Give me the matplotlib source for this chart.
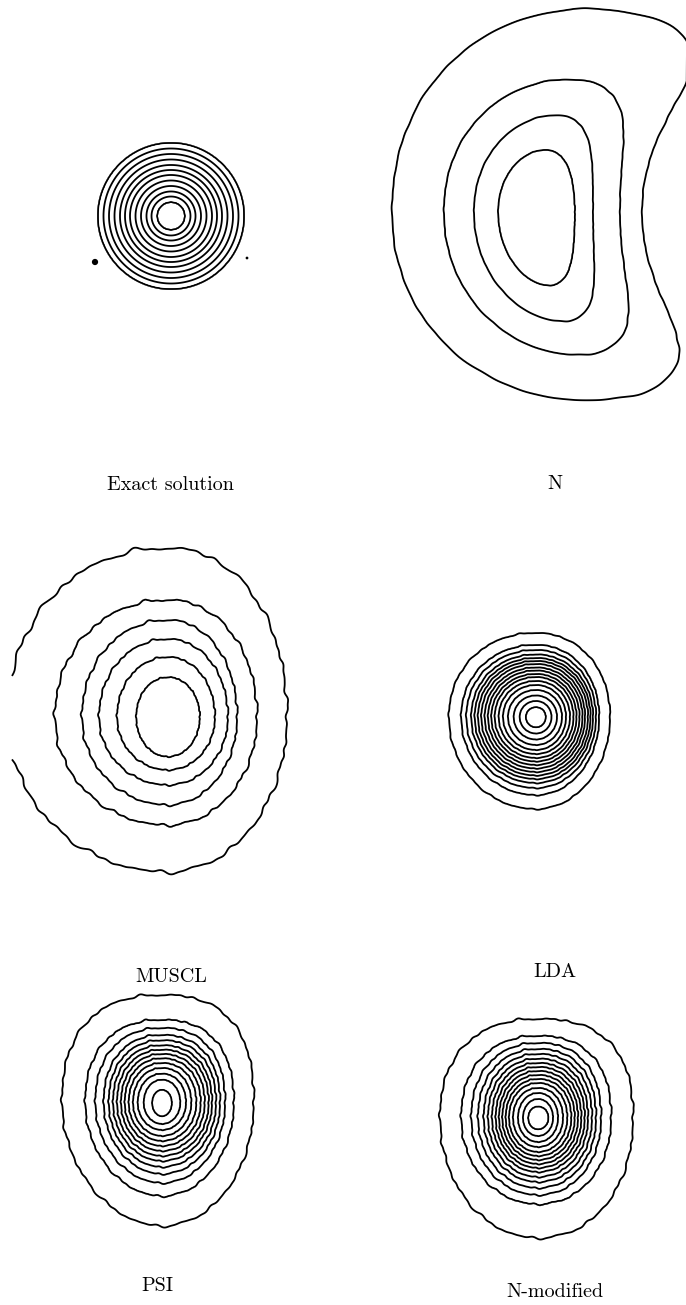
import numpy as np
import matplotlib
matplotlib.use("Agg")
import matplotlib.pyplot as plt

W, H = 686, 1305

# contour levels shared by all six panels
LEVELS = [0.05, 0.10, 0.15, 0.20, 0.25, 0.30, 0.35, 0.40, 0.45, 0.50,
          0.55, 0.60, 0.65, 0.70, 0.75, 0.80, 0.85, 0.90, 0.95]

# ring extents (px) per level, measured left / right / top / bottom of the peak
EXACT_CENTER = (171, 216)
EXACT_RADII = [73, 67.5, 62, 56.5, 51, 46, 41, 35.5, 30, 24.5, 19.5, 14]
EXACT_PEAK = 0.62
EXACT_SPECKS_X = [95, 247]
EXACT_SPECKS_Y = [262, 258]
EXACT_SPECKS_SIZE = [4.5, 2.0]

N_CENTER = (537, 212)
N_PIVOT = 225          # distance to the rotation centre on the right
N_LEFT = [145, 93, 63, 39]
N_RIGHT = [105, 83, 56, 38]
N_TOP = [236, 141, 100, 63]
N_BOTTOM = [215, 154, 114, 75]
N_PEAK = 0.23

MUSCL_CENTER = (168, 717)
MUSCL_LEFT = [160, 113, 86, 69, 51, 32]
MUSCL_RIGHT = [119, 89, 69, 60, 47, 32]
MUSCL_TOP = [169, 117, 97, 78, 60, 40]
MUSCL_BOTTOM = [155, 108, 88, 68, 53, 40]
MUSCL_PEAK = 0.33
MUSCL_XMIN = 12

LDA_CENTER = (536, 717)
LDA_LEFT = [87, 74.7, 69.7, 64.7, 61.3, 58, 54.7, 51.3, 48, 44.7, 41.3, 37.3,
            33, 28, 22.3, 16.3, 10.3]
LDA_RIGHT = [74, 63, 60, 57, 54.5, 52, 49, 46.5, 43.5, 40.5, 37.5, 34,
             30, 26, 21, 15.5, 10]
LDA_TOP = [84, 72, 67, 62.5, 59, 56, 53, 49.5, 46.5, 43, 40, 36,
           32, 27, 21.5, 16, 10]
LDA_BOTTOM = [92, 78, 71, 66, 62, 58.5, 55, 51.5, 48, 44.5, 41, 37,
              33, 28, 22.5, 16.5, 10.5]
LDA_PEAK = 0.87

PSI_CENTER = (162, 1103)
PSI_LEFT = [100, 76.7, 66.7, 58.3, 53.3, 49, 45, 41, 37.3, 33.3, 29, 24.3, 18.3, 10]
PSI_RIGHT = [91.7, 71.7, 63, 58, 54, 50, 46.7, 42.7, 38.7, 34.3, 29.3, 24, 18.3, 10]
PSI_TOP = [108, 83, 75, 68, 62.7, 57.7, 53.3, 49, 44.7, 40, 35, 29.3, 23.3, 13.3]
PSI_BOTTOM = [123, 93, 80, 71, 64, 58, 53, 48, 43, 38, 33, 27, 21, 13.5]
PSI_PEAK = 0.72

NMOD_CENTER = (538, 1118)
NMOD_LEFT = [98, 76.7, 66.7, 60, 54.3, 50, 46, 42.3, 39, 35.7, 32.3, 29,
             25, 20, 15, 10]
NMOD_RIGHT = [95, 73, 63, 58, 54, 50, 46.7, 43.3, 40, 36.7, 33.3, 29.3,
              25, 20, 15, 10.7]
NMOD_TOP = [99, 82, 75, 69, 64, 59.3, 55, 51, 47, 43, 39, 35, 30, 25, 19, 11.7]
NMOD_BOTTOM = [120, 86, 77, 70, 64, 59, 54, 50, 46, 42, 38, 34, 29, 24, 18, 11.5]
NMOD_PEAK = 0.82

# squareness of the outermost ring per quadrant (top-left, top-right,
# bottom-left, bottom-right); 2 = ellipse, inner rings relax towards 2
SQUARENESS = {"exact": [2.0, 2.0, 2.0, 2.0],
              "N": [2.4, 1.85, 2.2, 1.9],
              "MUSCL": [2.1, 2.1, 2.0, 2.0],
              "LDA": [2.1, 2.1, 2.0, 2.0],
              "PSI": [2.4, 2.5, 1.9, 2.0],
              "NMOD": [2.3, 2.5, 2.0, 2.1]}

# mesh roughness: angular modes, phases and weights of the contour ripple
WIGGLE_MODES = [19, 27, 38, 51, 66]
WIGGLE_PHASE = [0.3, 1.7, 2.9, 0.8, 2.2]
WIGGLE_WEIGHT = [1.0, 0.8, 0.6, 0.5, 0.4]
WIGGLE_AMP = {"exact": 0.0, "N": 0.0015, "MUSCL": 0.006, "LDA": 0.003,
              "PSI": 0.005, "NMOD": 0.005}

CAPTIONS = ["Exact solution", "N", "MUSCL", "LDA", "PSI", "N-modified"]
CAPTION_X = [170, 555, 171, 555, 157, 555]
CAPTION_Y = [485, 484, 977, 972, 1286, 1292]


def ring_field(xp, yp, left, right, top, bottom, peak, square, wiggle=0.0):
    """Piecewise-linear field whose level sets are quadrant superellipses."""
    n = len(left)
    lev = np.r_[0.0, LEVELS[:n], peak]
    left, right = np.asarray(left, float), np.asarray(right, float)
    top, bottom = np.asarray(top, float), np.asarray(bottom, float)
    xf, yf = xp.ravel(), yp.ravel()
    r = np.hypot(xf, yf)
    phi = np.arctan2(yf, xf)
    d = r.copy()
    if wiggle:
        wig = sum(w * np.sin(k * phi + ph)
                  for k, ph, w in zip(WIGGLE_MODES, WIGGLE_PHASE, WIGGLE_WEIGHT))
        d = d * (1 + wiggle * wig)
    rr = np.where(r == 0, 1e-9, r)
    ca = np.abs(xf / rr)[:, None]
    sa = np.abs(yf / rr)[:, None]
    is_left = xf[:, None] < 0
    is_top = yf[:, None] < 0
    rh = np.where(is_left, left[None, :], right[None, :])
    rv = np.where(is_top, top[None, :], bottom[None, :])
    # exponent per quadrant, fading to an ellipse for the inner rings
    tl, tr, bl, br = square
    pq = np.where(is_top, np.where(is_left, tl, tr), np.where(is_left, bl, br))
    fade = (left / left[0])[None, :]
    p = 2.0 + (pq - 2.0) * fade
    R = ((ca / rh) ** p + (sa / rv) ** p) ** (-1.0 / p)
    rad = np.concatenate([R[:, :1] * 1.25, R, np.zeros((len(d), 1))], axis=1)
    u = np.zeros(len(d))
    for j in range(n + 1):
        m = (d <= rad[:, j]) & (d > rad[:, j + 1])
        u[m] = lev[j] + (lev[j + 1] - lev[j]) * (rad[m, j] - d[m]) / (rad[m, j] - rad[m, j + 1])
    u[d <= 0] = peak
    return u.reshape(xp.shape)


def local_grid(center, half, step=1.0):
    cx, cy = center
    xs = np.arange(cx - half, cx + half + step, step)
    ys = np.arange(cy - half, cy + half + step, step)
    return np.meshgrid(xs, ys)


fig = plt.figure(figsize=(W / 100, H / 100), dpi=100)
ax = fig.add_axes([0, 0, 1, 1])
ax.set_xlim(0, W)
ax.set_ylim(H, 0)
ax.axis("off")

line_kw = dict(levels=LEVELS, colors="black", linewidths=1.3)

# exact solution: cone with flat top
X, Y = local_grid(EXACT_CENTER, 100)
U = ring_field(X - EXACT_CENTER[0], Y - EXACT_CENTER[1],
               EXACT_RADII, EXACT_RADII, EXACT_RADII, EXACT_RADII, EXACT_PEAK,
               SQUARENESS["exact"])
ax.contour(X, Y, U, **line_kw)
ax.scatter(EXACT_SPECKS_X, EXACT_SPECKS_Y, s=np.square(EXACT_SPECKS_SIZE),
           color="black", linewidths=0)

# N scheme: smeared along the rotation arc
X, Y = local_grid(N_CENTER, 260)
px, py = N_CENTER[0] + N_PIVOT, N_CENTER[1]
rho = np.hypot(X - px, Y - py)
theta = np.arctan2(Y - py, px - X)
U = ring_field(N_PIVOT - rho, rho * theta, N_LEFT, N_RIGHT, N_TOP, N_BOTTOM,
               N_PEAK, SQUARENESS["N"], wiggle=WIGGLE_AMP["N"])
ax.contour(X, Y, U, **line_kw)

# MUSCL, cut by the left border of its frame
X, Y = local_grid(MUSCL_CENTER, 220)
U = ring_field(X - MUSCL_CENTER[0], Y - MUSCL_CENTER[1], MUSCL_LEFT, MUSCL_RIGHT,
               MUSCL_TOP, MUSCL_BOTTOM, MUSCL_PEAK, SQUARENESS["MUSCL"],
               wiggle=WIGGLE_AMP["MUSCL"])
U = np.ma.masked_where(X < MUSCL_XMIN, U)
ax.contour(X, Y, U, **line_kw)

# LDA
X, Y = local_grid(LDA_CENTER, 130)
U = ring_field(X - LDA_CENTER[0], Y - LDA_CENTER[1], LDA_LEFT, LDA_RIGHT,
               LDA_TOP, LDA_BOTTOM, LDA_PEAK, SQUARENESS["LDA"],
               wiggle=WIGGLE_AMP["LDA"])
ax.contour(X, Y, U, **line_kw)

# PSI
X, Y = local_grid(PSI_CENTER, 170)
U = ring_field(X - PSI_CENTER[0], Y - PSI_CENTER[1], PSI_LEFT, PSI_RIGHT,
               PSI_TOP, PSI_BOTTOM, PSI_PEAK, SQUARENESS["PSI"],
               wiggle=WIGGLE_AMP["PSI"])
ax.contour(X, Y, U, **line_kw)

# N-modified
X, Y = local_grid(NMOD_CENTER, 170)
U = ring_field(X - NMOD_CENTER[0], Y - NMOD_CENTER[1], NMOD_LEFT, NMOD_RIGHT,
               NMOD_TOP, NMOD_BOTTOM, NMOD_PEAK, SQUARENESS["NMOD"],
               wiggle=WIGGLE_AMP["NMOD"])
ax.contour(X, Y, U, **line_kw)

for label, x, y in zip(CAPTIONS, CAPTION_X, CAPTION_Y):
    ax.text(x, y, label, family="cmr10", fontsize=14.5, ha="center", va="center")

fig.savefig("out.png", dpi=100, facecolor="white")
